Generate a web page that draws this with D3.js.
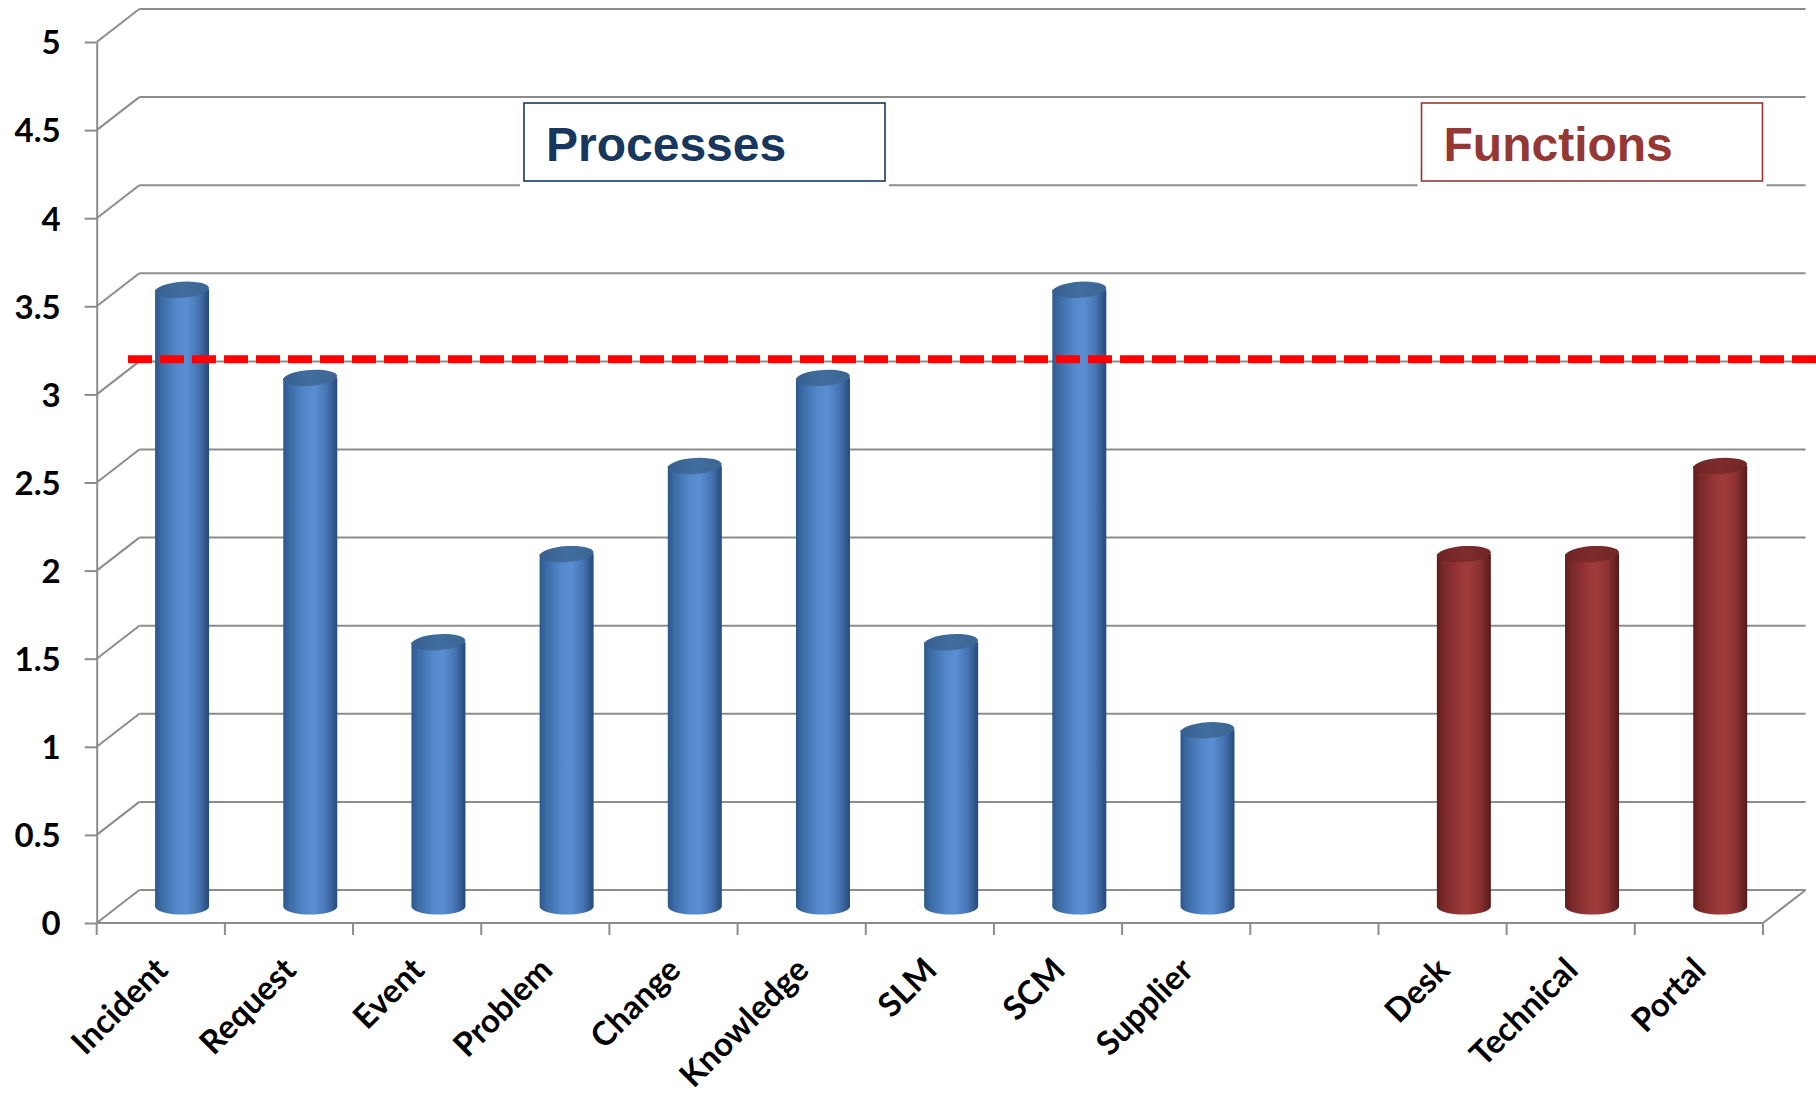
<!DOCTYPE html>
<html><head><meta charset="utf-8">
<script src="https://cdn.jsdelivr.net/npm/d3@7"></script>
<style>body{margin:0;background:#fff}</style>
</head><body>
<svg id="chart" width="1816" height="1093"></svg>
<script>
// ---- data ----
const categories = ["Incident","Request","Event","Problem","Change","Knowledge","SLM","SCM","Supplier","","Desk","Technical","Portal"];
const values = [3.5, 3, 1.5, 2, 2.5, 3, 1.5, 3.5, 1, null, 2, 2, 2.5];
const groups = ["process","process","process","process","process","process","process","process","process","gap","function","function","function"];
const yTicks = [0, 0.5, 1, 1.5, 2, 2.5, 3, 3.5, 4, 4.5, 5];
const targetValue = 3.2;
const legendLabels = ["Processes", "Functions"];

// ---- layout ----
const W = 1816, H = 1093;
const plotLeft = 96.7, plotRight = 1763, plotTop = 42, plotBase = 923;
const depthX = 42.6, depthY = -33;
const gridColor = "#8c8c8c";
const font = "Lato, 'Open Sans', sans-serif";

const svg = d3.select("#chart");
const x = d3.scaleBand().domain(d3.range(categories.length)).range([plotLeft, plotRight]).padding(0);
const y = d3.scaleLinear().domain([0, 5]).range([plotBase, plotTop]);

const defs = svg.append("defs");
function cylGrad(id, stops) {
  const g = defs.append("linearGradient").attr("id", id).attr("x1", "0%").attr("x2", "100%").attr("y1", "0%").attr("y2", "0%");
  stops.forEach(s => g.append("stop").attr("offset", s[0]).attr("stop-color", s[1]));
}
cylGrad("gBlue", [["0%","#2c578a"],["12%","#3c6ba5"],["40%","#5388cb"],["58%","#5a8fd3"],["80%","#4775b3"],["100%","#264a7a"]]);
cylGrad("gBlueTop", [["0%","#35608f"],["50%","#426e9f"],["100%","#3a6594"]]);
cylGrad("gRed", [["0%","#5e1d1d"],["12%","#782828"],["40%","#973636"],["58%","#a23c3c"],["80%","#8a3030"],["100%","#551a1a"]]);
cylGrad("gRedTop", [["0%","#6e2424"],["50%","#7e2c2c"],["100%","#712626"]]);

// ---- walls / gridlines ----
const grid = svg.append("g").attr("stroke", gridColor).attr("stroke-width", 2).attr("fill", "none");
grid.selectAll("line.back").data(yTicks).join("line").attr("class", "back")
  .attr("x1", plotLeft + depthX).attr("x2", plotRight + depthX)
  .attr("y1", d => y(d) + depthY).attr("y2", d => y(d) + depthY);
grid.selectAll("line.side").data(yTicks).join("line").attr("class", "side")
  .attr("x1", plotLeft).attr("x2", plotLeft + depthX)
  .attr("y1", d => y(d)).attr("y2", d => y(d) + depthY);
grid.append("line").attr("x1", plotLeft).attr("x2", plotRight).attr("y1", y(0)).attr("y2", y(0));
grid.append("line").attr("x1", plotRight).attr("x2", plotRight + depthX).attr("y1", y(0)).attr("y2", y(0) + depthY);

// ---- y axis ----
const yAxis = svg.append("g").attr("transform", `translate(${plotLeft},0)`)
  .call(d3.axisLeft(y).tickValues(yTicks).tickSize(12).tickSizeOuter(0).tickPadding(24).tickFormat(d => String(d)));
yAxis.selectAll("path, line").attr("stroke", gridColor).attr("stroke-width", 2);
yAxis.selectAll("text").attr("font-family", font).attr("font-weight", "bold").attr("font-size", 33).attr("fill", "#000").attr("dy", "0.36em");

// ---- x axis ticks ----
const boundaries = d3.range(categories.length + 1).map(i => i < categories.length ? x(i) : x(categories.length - 1) + x.step());
svg.append("g").selectAll("line").data(boundaries).join("line")
  .attr("x1", d => d).attr("x2", d => d).attr("y1", y(0)).attr("y2", y(0) + 12)
  .attr("stroke", gridColor).attr("stroke-width", 2);

// ---- bars (cylinders) ----
const rx = 27, ry = 8;
const barData = values.map((v, i) => ({ i, v, g: groups[i] })).filter(d => d.v != null);
const bars = svg.append("g").selectAll("g").data(barData).join("g");
bars.append("path")
  .attr("d", d => {
    const cx = x(d.i) + x.bandwidth() / 2 + depthX / 2;
    const yb = y(0) + depthY / 2, yt = y(d.v) + depthY / 2;
    return `M${cx - rx},${yt} L${cx - rx},${yb} A${rx},${ry} 0 0 0 ${cx + rx},${yb} L${cx + rx},${yt} Z`;
  })
  .attr("fill", d => d.g === "function" ? "url(#gRed)" : "url(#gBlue)");
bars.append("ellipse")
  .attr("cx", 0).attr("cy", 0).attr("rx", rx).attr("ry", ry)
  .attr("transform", d => {
    const cx = x(d.i) + x.bandwidth() / 2 + depthX / 2;
    const yt = y(d.v) + depthY / 2;
    return `translate(${cx},${yt}) rotate(-4)`;
  })
  .attr("fill", d => d.g === "function" ? "url(#gRedTop)" : "url(#gBlueTop)");

// ---- x labels ----
svg.append("g").selectAll("text").data(categories.map((c, i) => ({ c, i })).filter(d => d.c !== "")).join("text")
  .attr("transform", d => `translate(${x(d.i) + x.bandwidth() / 2 + 9},972) rotate(-45)`)
  .attr("text-anchor", "end")
  .attr("font-family", font).attr("font-weight", "bold").attr("font-size", 33).attr("fill", "#000")
  .text(d => d.c);

// ---- target dashed line ----
svg.append("line")
  .attr("x1", 128).attr("x2", W).attr("y1", y(targetValue)).attr("y2", y(targetValue))
  .attr("stroke", "#ff0000").attr("stroke-width", 8).attr("stroke-dasharray", "24 8");

// ---- group label boxes ----
const boxes = [
  { label: legendLabels[0], x: 524, y: 103, w: 361, h: 78, color: "#17375e" },
  { label: legendLabels[1], x: 1421.5, y: 103, w: 341, h: 78, color: "#953735" }
];
const bx = svg.append("g").selectAll("g").data(boxes).join("g");
bx.append("rect").attr("x", d => d.x - 4).attr("y", d => d.y).attr("width", d => d.w + 8).attr("height", d => d.h + 6).attr("fill", "#fff");
bx.append("rect").attr("x", d => d.x).attr("y", d => d.y).attr("width", d => d.w).attr("height", d => d.h)
  .attr("fill", "#fff").attr("stroke", d => d.color).attr("stroke-width", 1.6);
bx.append("text").attr("x", d => d.x + 22).attr("y", d => d.y + 58)
  .attr("font-family", "'Liberation Sans', Arial, sans-serif").attr("font-weight", "bold").attr("font-size", 48)
  .attr("fill", d => d.color).text(d => d.label);
</script>
</body></html>
